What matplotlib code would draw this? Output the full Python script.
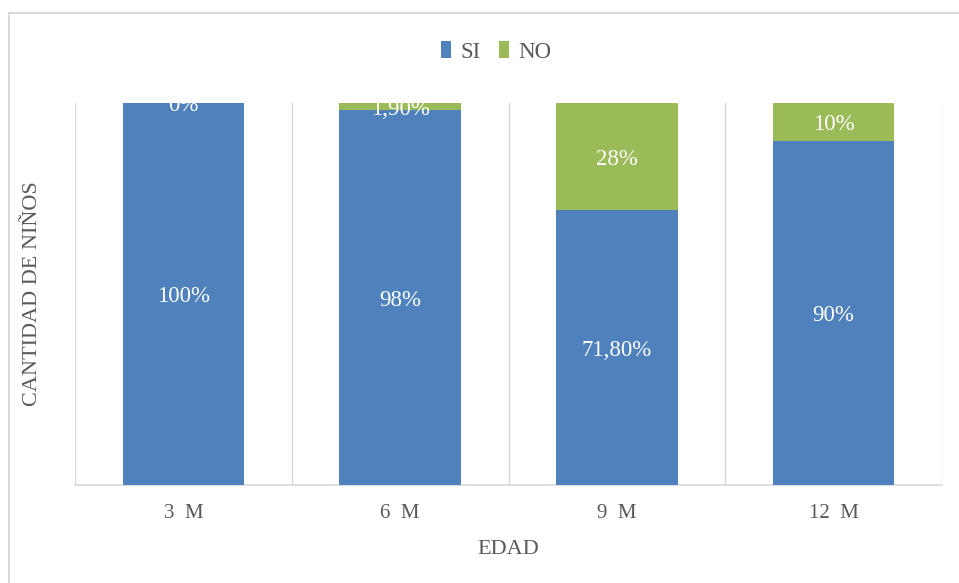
import matplotlib.pyplot as plt
from matplotlib.patches import Rectangle
import numpy as np

categories = ["3  M", "6  M", "9  M", "12  M"]
si = [100, 98, 71.8, 90]
no = [0, 1.9, 28, 10]
si_labels = ["100%", "98%", "71,80%", "90%"]
no_labels = ["0%", "1,90%", "28%", "10%"]

blue = "#4F81BD"
green = "#9BBB59"
grey_text = "#595959"
grid = "#D9D9D9"

plt.rcParams['font.family'] = ['Liberation Serif', 'DejaVu Serif']

W, H = 959, 583
fig = plt.figure(figsize=(W / 100, H / 100), dpi=100)
ax = fig.add_axes([75 / W, 1 - 485 / H, (942 - 75) / W, (485 - 103) / H])

si_a = np.array(si, dtype=float)
no_a = np.array(no, dtype=float)
tot = si_a + no_a
si_p = si_a / tot * 100
no_p = no_a / tot * 100

x = np.arange(len(categories))
w = 0.56
ax.bar(x, si_p, w, color=blue, label="SI", zorder=3)
ax.bar(x, no_p, w, bottom=si_p, color=green, label="NO", zorder=3)

for i in range(len(categories)):
    ax.annotate(si_labels[i], (x[i], si_p[i] / 2), xytext=(0, -2), textcoords='offset points',
                ha='center', va='center', color='white', fontsize=16.5, zorder=4,
                annotation_clip=False, clip_on=True)
    ax.annotate(no_labels[i], (x[i], si_p[i] + no_p[i] / 2), xytext=(0, -2), textcoords='offset points',
                ha='center', va='center', color='white', fontsize=16.5, zorder=4,
                annotation_clip=False, clip_on=True)

ax.set_xlim(-0.5, len(categories) - 0.5)
ax.set_ylim(0, 100)
for b in np.arange(-0.5, len(categories), 1):
    ax.axvline(b, color=grid, lw=1, zorder=1)

for s in ['top', 'right', 'left']:
    ax.spines[s].set_visible(False)
ax.spines['bottom'].set_color(grid)
ax.spines['bottom'].set_linewidth(1.2)
ax.set_yticks([])
ax.set_xticks(x)
ax.set_xticklabels(categories, fontsize=15, color=grey_text)
ax.tick_params(axis='x', length=0, pad=14)

ax.set_xlabel("EDAD", fontsize=16, color=grey_text, labelpad=12)
ax.set_ylabel("CANTIDAD DE NIÑOS", fontsize=16, color=grey_text, labelpad=24)

ax.legend(loc='center', bbox_to_anchor=(0.486, (1 - 52 / H - (1 - 485 / H)) / ((485 - 103) / H)),
          ncol=2, frameon=False, fontsize=16.5, labelcolor=grey_text,
          handlelength=0.45, handleheight=0.7, handletextpad=0.4, columnspacing=0.8)

fig.add_artist(Rectangle((9 / W, -0.1), 1.1, 1 - 13 / H + 0.1,
                         transform=fig.transFigure, fill=False,
                         edgecolor=grid, lw=1.5))

fig.savefig("out.png", dpi=100)
